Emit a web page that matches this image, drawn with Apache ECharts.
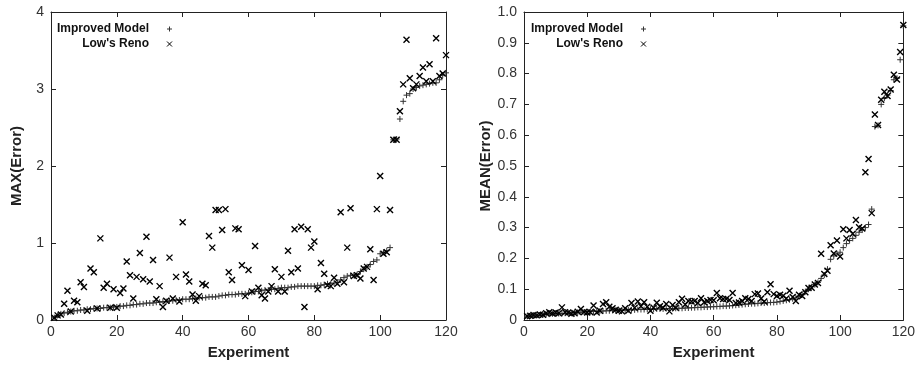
<!DOCTYPE html>
<html>
<head>
<meta charset="utf-8">
<script src="https://cdn.jsdelivr.net/npm/echarts@6/dist/echarts.min.js"></script>
<style>
  html, body { margin: 0; padding: 0; background: #fff; }
  #main { width: 918px; height: 365px; }
</style>
</head>
<body>
<div id="main"></div>
<script>
// max error per experiment (sorted by improved model)
var maxImproved = [
  0.03, 0.06, 0.08, 0.09, 0.10, 0.11, 0.12, 0.12, 0.13, 0.13,
  0.14, 0.14, 0.15, 0.15, 0.15, 0.16, 0.16, 0.16, 0.17, 0.17,
  0.18, 0.18, 0.19, 0.19, 0.20, 0.20, 0.21, 0.21, 0.22, 0.22,
  0.22, 0.23, 0.23, 0.24, 0.24, 0.25, 0.25, 0.26, 0.26, 0.27,
  0.27, 0.27, 0.28, 0.28, 0.29, 0.29, 0.29, 0.30, 0.30, 0.30,
  0.31, 0.32, 0.32, 0.33, 0.33, 0.33, 0.34, 0.34, 0.34, 0.35,
  0.36, 0.37, 0.37, 0.38, 0.39, 0.39, 0.40, 0.40, 0.41, 0.42,
  0.42, 0.42, 0.43, 0.43, 0.44, 0.44, 0.44, 0.44, 0.44, 0.44,
  0.45, 0.45, 0.46, 0.47, 0.47, 0.48, 0.49, 0.52, 0.55, 0.57,
  0.58, 0.58, 0.59, 0.63, 0.66, 0.69, 0.72, 0.76, 0.78, 0.86,
  0.88, 0.90, 0.94, 2.34, 2.35, 2.61, 2.84, 2.92, 2.94, 3.00,
  3.02, 3.04, 3.05, 3.06, 3.07, 3.08, 3.08, 3.12, 3.18, 3.21
];
var maxReno = [
  0.03, 0.06, 0.07, 0.21, 0.38, 0.11, 0.25, 0.23, 0.49, 0.43,
  0.12, 0.67, 0.62, 0.15, 1.06, 0.42, 0.47, 0.16, 0.40, 0.16,
  0.35, 0.41, 0.76, 0.58, 0.28, 0.56, 0.87, 0.53, 1.08, 0.50,
  0.78, 0.27, 0.44, 0.17, 0.25, 0.81, 0.28, 0.56, 0.24, 1.27,
  0.59, 0.50, 0.33, 0.25, 0.31, 0.47, 0.45, 1.09, 0.94, 1.43,
  1.43, 1.17, 1.44, 0.62, 0.52, 1.19, 1.18, 0.71, 0.31, 0.65,
  0.37, 0.96, 0.42, 0.32, 0.28, 0.37, 0.44, 0.66, 0.37, 0.56,
  0.37, 0.90, 0.62, 1.18, 0.67, 1.21, 0.17, 1.18, 0.94, 1.02,
  0.40, 0.74, 0.60, 0.45, 0.44, 0.55, 0.47, 1.40, 0.49, 0.94,
  1.45, 0.57, 0.58, 0.54, 0.67, 0.69, 0.92, 0.52, 1.44, 1.87,
  0.86, 0.88, 1.43, 2.34, 2.34, 2.71, 3.06, 3.64, 3.14, 3.01,
  3.06, 3.17, 3.28, 3.10, 3.32, 3.10, 3.66, 3.17, 3.20, 3.44
];
// mean error per experiment
var meanImproved = [
  0.012, 0.013, 0.014, 0.015, 0.016, 0.017, 0.018, 0.019, 0.020, 0.020,
  0.021, 0.021, 0.022, 0.022, 0.023, 0.024, 0.025, 0.025, 0.026, 0.027,
  0.027, 0.028, 0.028, 0.029, 0.029, 0.030, 0.030, 0.031, 0.031, 0.032,
  0.032, 0.032, 0.033, 0.033, 0.033, 0.034, 0.034, 0.034, 0.035, 0.035,
  0.035, 0.036, 0.036, 0.036, 0.037, 0.037, 0.037, 0.038, 0.038, 0.038,
  0.039, 0.039, 0.040, 0.040, 0.041, 0.041, 0.042, 0.042, 0.043, 0.043,
  0.044, 0.044, 0.045, 0.045, 0.046, 0.047, 0.048, 0.049, 0.050, 0.051,
  0.052, 0.053, 0.053, 0.054, 0.055, 0.055, 0.056, 0.057, 0.057, 0.058,
  0.060, 0.062, 0.064, 0.066, 0.069, 0.072, 0.076, 0.082, 0.092, 0.100,
  0.108, 0.115, 0.122, 0.135, 0.146, 0.165, 0.197, 0.208, 0.215, 0.220,
  0.235, 0.248, 0.258, 0.265, 0.275, 0.285, 0.292, 0.300, 0.310, 0.360,
  0.628, 0.632, 0.700, 0.720, 0.730, 0.745, 0.780, 0.785, 0.845, 0.955
];
var meanReno = [
  0.012, 0.014, 0.016, 0.015, 0.018, 0.017, 0.022, 0.025, 0.021, 0.024,
  0.022, 0.041, 0.025, 0.024, 0.020, 0.022, 0.027, 0.036, 0.026, 0.024,
  0.025, 0.047, 0.024, 0.030, 0.052, 0.058, 0.043, 0.038, 0.033, 0.030,
  0.028, 0.038, 0.030, 0.055, 0.040, 0.060, 0.045, 0.058, 0.043, 0.030,
  0.040, 0.056, 0.045, 0.040, 0.052, 0.028, 0.049, 0.040, 0.058, 0.069,
  0.050, 0.062, 0.060, 0.062, 0.055, 0.071, 0.058, 0.062, 0.065, 0.064,
  0.088, 0.071, 0.068, 0.068, 0.065, 0.088, 0.055, 0.057, 0.062, 0.071,
  0.068, 0.062, 0.084, 0.086, 0.070, 0.060, 0.090, 0.116, 0.084, 0.078,
  0.082, 0.079, 0.070, 0.095, 0.075, 0.062, 0.082, 0.078, 0.090, 0.104,
  0.105, 0.115, 0.120, 0.215, 0.149, 0.160, 0.243, 0.216, 0.258, 0.206,
  0.295, 0.265, 0.292, 0.280, 0.325, 0.301, 0.297, 0.480, 0.523, 0.347,
  0.667, 0.633, 0.715, 0.741, 0.727, 0.748, 0.796, 0.781, 0.870, 0.958
];
var xTicks = { min: 0, max: 120, interval: 20 };
var seriesNames = ['Improved Model', "Low's Reno"];

var PLUS = 'path://M0,5L10,5M5,0L5,10';
var CROSS = 'path://M0,0L10,10M10,0L0,10';
var FONT = 'Liberation Sans, Arial, sans-serif';

function pairs(arr) {
  return arr.map(function (v, i) { return [i + 1, v]; });
}

function xAxes(gridIndex) {
  var base = {
    type: 'value', gridIndex: gridIndex,
    min: xTicks.min, max: xTicks.max, interval: xTicks.interval,
    splitLine: { show: false },
    axisLine: { show: true, onZero: false, lineStyle: { color: '#222', width: 1 } },
    axisTick: { show: true, inside: true, length: 5, lineStyle: { color: '#222' } }
  };
  var bottom = Object.assign({}, base, {
    position: 'bottom',
    name: 'Experiment', nameLocation: 'middle', nameGap: 25,
    nameTextStyle: { fontFamily: FONT, fontSize: 15, fontWeight: 'bold', color: '#222' },
    axisLabel: { fontFamily: FONT, fontSize: 14, color: '#333', margin: 5 }
  });
  var top = Object.assign({}, base, { position: 'top', axisLabel: { show: false } });
  return [bottom, top];
}

function yAxes(gridIndex, name, max, interval, fmt) {
  var base = {
    type: 'value', gridIndex: gridIndex,
    min: 0, max: max, interval: interval,
    splitLine: { show: false },
    axisLine: { show: true, onZero: false, lineStyle: { color: '#222', width: 1 } },
    axisTick: { show: true, inside: true, length: 5, lineStyle: { color: '#222' } }
  };
  var left = Object.assign({}, base, {
    position: 'left',
    name: name, nameLocation: 'middle', nameGap: 27, nameRotate: 90,
    nameTextStyle: { fontFamily: FONT, fontSize: 15, fontWeight: 'bold', color: '#222' },
    axisLabel: { fontFamily: FONT, fontSize: 14, color: '#333', margin: 7, formatter: fmt }
  });
  var right = Object.assign({}, base, { position: 'right', axisLabel: { show: false } });
  return [left, right];
}

function scatter(name, symbol, size, data, xi, yi, w) {
  return {
    name: name, type: 'scatter',
    xAxisIndex: xi, yAxisIndex: yi,
    symbol: symbol, symbolSize: size,
    itemStyle: { color: '#000', borderColor: name === seriesNames[0] ? '#333' : '#000', borderWidth: w, opacity: 1 },
    emphasis: { disabled: true },
    data: pairs(data)
  };
}

function legend(left) {
  return {
    orient: 'vertical', left: left, top: 18, align: 'right',
    itemWidth: 5, itemHeight: 5, itemGap: 3,
    data: seriesNames,
    formatter: '{a|{name}}',
    itemStyle: { borderWidth: 1 },
    textStyle: {
      rich: { a: { width: 94, align: 'right', padding: [0, 13, 0, 0], fontFamily: FONT, fontSize: 12, fontWeight: 'bold', color: '#111' } }
    },
    selectedMode: false
  };
}

var chart = echarts.init(document.getElementById('main'), null, { renderer: 'canvas' });

var xa = xAxes(0).concat(xAxes(1));
var ya = yAxes(0, 'MAX(Error)', 4, 1, function (v) { return String(v); })
  .concat(yAxes(1, 'MEAN(Error)', 1, 0.1, function (v) { return v === 0 ? '0' : v.toFixed(1); }));

var option = {
  animation: false,
  backgroundColor: '#fff',
  grid: [
    { left: 51, top: 12, width: 395, height: 310 },
    { left: 524, top: 12, width: 381, height: 310 }
  ],
  legend: [legend(52), legend(526)],
  xAxis: xa,
  yAxis: ya,
  series: [
    scatter(seriesNames[0], PLUS, 6, maxImproved, 0, 0, 1),
    scatter(seriesNames[1], CROSS, 6, maxReno, 0, 0, 1.4),
    scatter(seriesNames[0], PLUS, 6, meanImproved, 2, 2, 1),
    scatter(seriesNames[1], CROSS, 6, meanReno, 2, 2, 1.4)
  ]
};
chart.setOption(option);
</script>
</body>
</html>
